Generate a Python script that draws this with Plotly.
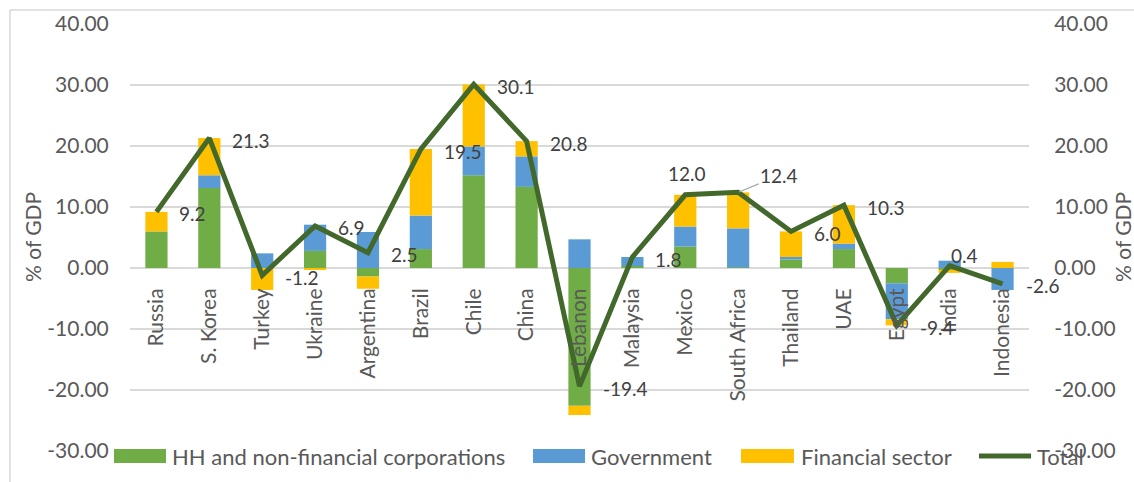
import plotly.graph_objects as go

countries = ["Russia", "S. Korea", "Turkey", "Ukraine", "Argentina", "Brazil", "Chile", "China",
             "Lebanon", "Malaysia", "Mexico", "South Africa", "Thailand", "UAE", "Egypt", "India", "Indonesia"]
hh_nfc = [6.0, 13.1, 0.0, 2.8, -1.4, 3.1, 15.2, 13.3, -22.6, 0.3, 3.5, 0.1, 1.4, 3.1, -2.5, -0.3, 0.0]
government = [0.0, 2.1, 2.4, 4.3, 5.9, 5.5, 4.7, 5.0, 4.7, 1.5, 3.3, 6.4, 0.4, 0.9, -5.9, 1.2, -3.6]
financial = [3.2, 6.1, -3.6, -0.2, -2.0, 10.9, 10.2, 2.5, -1.5, 0.0, 5.2, 5.9, 4.2, 6.3, -1.0, -0.5, 1.0]
total = [9.2, 21.3, -1.2, 6.9, 2.5, 19.5, 30.1, 20.8, -19.4, 1.8, 12.0, 12.4, 6.0, 10.3, -9.4, 0.4, -2.6]
y_ticks = [-30, -20, -10, 0, 10, 20, 30, 40]
series_names = ["HH and non-financial corporations", "Government", "Financial sector", "Total"]
series_colors = ["#70AD47", "#5B9BD5", "#FFC000", "#43682B"]
axis_title = "% of GDP"

FONT = "Lato"
TXT = "#595959"
GRID = "#d9d9d9"

W, H = 1134, 482
L, R, T, B = 130, 105, 24, 31
PW, PH = W - L - R, H - T - B


def px_x(px):
    return (px - L) / PW


def px_y(py):
    return (H - B - py) / PH


fig = go.Figure()
for vals, name, col in zip([hh_nfc, government, financial], series_names[:3], series_colors[:3]):
    fig.add_trace(go.Bar(x=countries, y=vals, name=name, showlegend=False,
                         marker=dict(color=col, line=dict(width=0))))
fig.add_trace(go.Scatter(x=countries, y=total, name=series_names[3], mode="lines", yaxis="y2",
                         showlegend=False, line=dict(color=series_colors[3], width=5)))

# data labels for Total (placement is style only)
special = {
    "Mexico": dict(xanchor="center", xshift=2, yshift=21),
    "India": dict(xanchor="center", xshift=15, yshift=10),
}
for c, t in zip(countries, total):
    if c == "South Africa":
        fig.add_annotation(x=c, y=t, yref="y2", text=f"{t:.1f}", showarrow=True, ax=41, ay=-17,
                           arrowhead=0, arrowwidth=1.2, arrowcolor="#a6a6a6", standoff=1,
                           font=dict(family=FONT, size=19, color="#404040"))
        continue
    kw = special.get(c, dict(xanchor="left", xshift=21, yshift=-2))
    fig.add_annotation(x=c, y=t, yref="y2", text=f"{t:.1f}", showarrow=False,
                       font=dict(family=FONT, size=19, color="#404040"), **kw)

# chart border (top and left)
fig.add_shape(type="line", xref="paper", yref="paper", x0=px_x(10), x1=px_x(1140), y0=px_y(10), y1=px_y(10),
              line=dict(color=GRID, width=1.5))
fig.add_shape(type="line", xref="paper", yref="paper", x0=px_x(10), x1=px_x(10), y0=px_y(10), y1=px_y(490),
              line=dict(color=GRID, width=1.5))

# axis titles
for xp in (32, 1122):
    fig.add_annotation(xref="paper", yref="paper", x=px_x(xp), y=px_y(237), text=axis_title,
                       textangle=-90, showarrow=False, xanchor="center", yanchor="middle",
                       font=dict(family=FONT, size=21, color=TXT))

# legend (Excel style: wide swatches)
legend_items = [(114, 166, 172), (533, 585, 591), (741, 794, 801), (977, 1033, 1037)]
for i, ((s0, s1, tx), name, col) in enumerate(zip(legend_items, series_names, series_colors)):
    if i < 3:
        fig.add_shape(type="rect", xref="paper", yref="paper", x0=px_x(s0), x1=px_x(s1),
                      y0=px_y(463), y1=px_y(449), fillcolor=col, line=dict(width=0), layer="above")
    else:
        fig.add_shape(type="line", xref="paper", yref="paper", x0=px_x(s0 + 2), x1=px_x(s1 - 2),
                      y0=px_y(456), y1=px_y(456), line=dict(color=col, width=5), layer="above")
    fig.add_annotation(xref="paper", yref="paper", x=px_x(tx - 2), y=px_y(456), xanchor="left",
                       yanchor="middle", text=name, showarrow=False,
                       font=dict(family=FONT, size=22, color=TXT))

tick_text = [f"{v:.2f}" for v in y_ticks]
axis_common = dict(range=[-30, 40], tickvals=y_ticks, ticktext=tick_text, automargin=False,
                   tickfont=dict(family=FONT, size=21, color=TXT), ticks="outside",
                   tickcolor="rgba(0,0,0,0)")

fig.update_layout(
    width=W, height=H,
    margin=dict(l=L, r=R, t=T, b=B),
    paper_bgcolor="white", plot_bgcolor="white",
    barmode="relative", bargap=0.58,
    font=dict(family=FONT, color=TXT),
    showlegend=False,
    xaxis=dict(anchor="free", position=30 / 70, range=[-0.5, len(countries) - 0.5],
               showgrid=False, showline=False, zeroline=False,
               automargin=False, tickangle=-90, ticks="outside", ticklen=11,
               tickcolor="rgba(0,0,0,0)", tickfont=dict(family=FONT, size=21, color=TXT)),
    yaxis=dict(showgrid=True, gridcolor=GRID, gridwidth=1.5, zeroline=True, zerolinecolor=GRID,
               zerolinewidth=1.5, showline=False, ticklen=16, **axis_common),
    yaxis2=dict(overlaying="y", side="right", showgrid=False, zeroline=False, showline=False,
                ticklen=20, **axis_common),
)

fig.write_html("out.html", post_script="document.body.style.margin='0';",
               config={"displayModeBar": False})
